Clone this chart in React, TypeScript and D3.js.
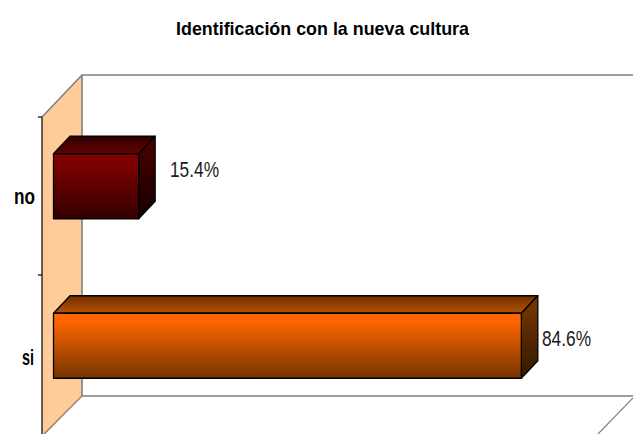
import React from "react";
import * as d3 from "d3";

const categories = ["no", "si"];
const values = [15.4, 84.6];
const valueLabels = ["15.4%", "84.6%"];
const frontColors = [["#800000", "#330000"], ["#ff6600", "#753300"]];
const topColors = [["#2e0000", "#660000"], ["#6e3000", "#b85000"]];
const sideColors = [["#4d0000", "#140000"], ["#7a3800", "#331800"]];
const title = "Identificación con la nueva cultura";

const W = 633, H = 434;
const x = d3.scaleLinear().domain([0, 100]).range([53.5, 606.5]);
const y = d3.scaleBand().domain(categories).range([117, 434]);
const depthX = 16.5, depthY = 17.5, wallDX = 40, wallDY = 42;
const barH = 65;
const pathOf = (pts: number[][]) => d3.line()(pts as [number, number][]) + "Z";

export default function App() {
  const left = 42, wallX = left + wallDX, wallTop = 117 - wallDY, floorY = 396;
  return (
    <svg width={W} height={H} style={{ position: "absolute", left: 0, top: 0 }} fontFamily="'Liberation Sans', Arial, sans-serif">
      <defs>
        {categories.map((c, i) => (
          <React.Fragment key={c}>
            {[["f", frontColors[i]], ["t", topColors[i]], ["s", sideColors[i]]].map(([k, cols]) => (
              <linearGradient key={k as string} id={`${k}${i}`} x1="0" y1="0" x2="0" y2="1">
                <stop offset={k === "f" ? "0.12" : "0"} stopColor={(cols as string[])[0]} />
                <stop offset="1" stopColor={(cols as string[])[1]} />
              </linearGradient>
            ))}
          </React.Fragment>
        ))}
      </defs>
      <text x={322.5} y={35} fontSize={19} fontWeight="bold" textAnchor="middle" textLength={293} lengthAdjust="spacingAndGlyphs" fill="#000">{title}</text>

      <path d={pathOf([[left, 117], [wallX, wallTop], [wallX, floorY], [left, floorY + wallDY], [left, H]])} fill="#ffcc99" />
      <path d={`M${left},117L${wallX},${wallTop}H${W}`} fill="none" stroke="#808080" strokeWidth={1.6} />
      <path d={`M${wallX},${wallTop}V${floorY}H${W}`} fill="none" stroke="#808080" strokeWidth={1.6} />
      <path d={`M${wallX},${floorY}L${wallX - 38},${floorY + 38}`} stroke="#808080" strokeWidth={1.2} fill="none" />
      <path d={`M${W},${floorY + 2}L${W - 35},${H}`} stroke="#808080" strokeWidth={1.2} fill="none" />

      <line x1={left} x2={left} y1={117} y2={H} stroke="#000" strokeWidth={1.2} />
      {[117, 275].map((t) => (
        <line key={t} x1={38} x2={left} y1={t} y2={t} stroke="#000" strokeWidth={1.2} />
      ))}

      {categories.map((c, i) => {
        const x0 = x(0), x1 = x(values[i]);
        const yc = y(c)! + y.bandwidth() / 2 + (i === 0 ? -10 : -9);
        const y0 = yc - barH / 2, y1 = y0 + barH;
        const top = pathOf([[x0, y0], [x0 + depthX, y0 - depthY], [x1 + depthX, y0 - depthY], [x1, y0]]);
        const side = pathOf([[x1, y0], [x1 + depthX, y0 - depthY], [x1 + depthX, y1 - depthY], [x1, y1]]);
        return (
          <g key={c} stroke="#000" strokeWidth={1.3} strokeLinejoin="round">
            <path d={top} fill={`url(#t${i})`} />
            <path d={side} fill={`url(#s${i})`} />
            <rect x={x0} y={y0} width={x1 - x0} height={barH} fill={`url(#f${i})`} />
            <text x={i === 0 ? 170 : 542} y={i === 0 ? 177 : 346} stroke="none" fill="#1a1a1a" fontSize={22} textLength={49} lengthAdjust="spacingAndGlyphs">{valueLabels[i]}</text>
            <text x={i === 0 ? 14 : 22} y={i === 0 ? 204 : 365} stroke="none" fill="#000" fontSize={22} fontWeight="bold" textLength={i === 0 ? 21 : 12} lengthAdjust="spacingAndGlyphs">{c}</text>
          </g>
        );
      })}
    </svg>
  );
}
